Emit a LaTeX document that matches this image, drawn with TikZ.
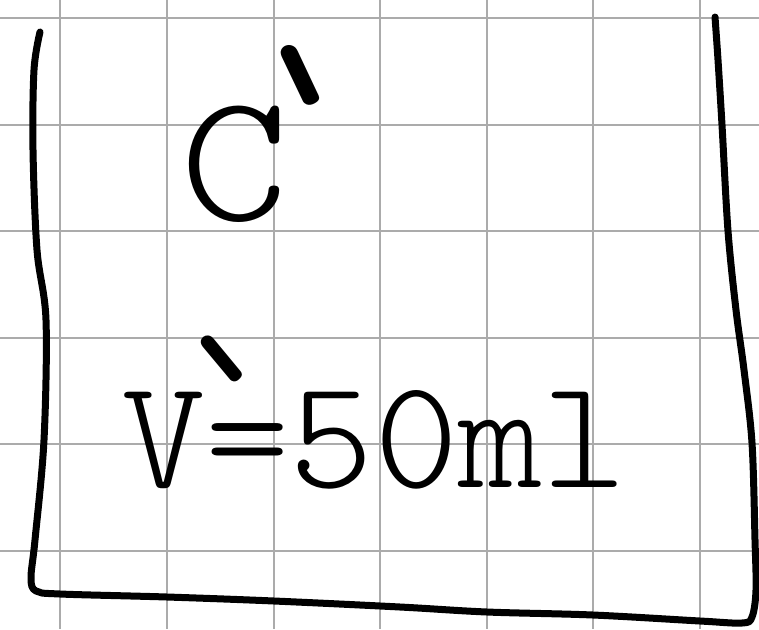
\documentclass[tikz,border=0pt]{standalone}
\usepackage{fontspec}
\usepackage{graphicx}
\newcommand{\handprime}[4]{\rlap{\hspace{#1}\raisebox{#2}{\rotatebox[origin=c]{#4}{\fontsize{#3}{#3}\selectfont\makebox[0pt]{\smash{\raisebox{-0.56em}{\textasciigrave}}}}}}}
\begin{document}
\begin{tikzpicture}[x=1pt,y=-1pt,
  gridline/.style={draw=black!33, line width=1.6pt},
  ink/.style={draw=black, line width=7pt, line cap=round, line join=round},
  handbig/.style={inner sep=0pt, font={\fontsize{184}{190}\ttfamily\fontseries{l}\selectfont}},
  handtext/.style={inner sep=0pt, font={\fontsize{156}{160}\ttfamily\fontseries{l}\selectfont}}]
\fill[white] (0,0) rectangle (759,629);
\useasboundingbox (0,0) rectangle (759,629);
\foreach \x in {60,167,274,380,487,593,700} \draw[gridline] (\x,0) -- (\x,629);
\foreach \y in {18,125,231,338,444,551} \draw[gridline] (0,\y) -- (759,\y);
\draw[ink] plot[smooth, tension=0.55] coordinates {(40,32) (34,70) (33,150) (37,250) (46,320) (44,440) (35,540) (31,578) (36,591) (60,594) (167,597) (274,601) (400,607) (487,612) (593,615) (700,621) (742,623) (752,617) (756,590) (755,540) (752,443) (744,370) (736,310) (728,231) (722,125) (718,60) (715,17)};
\node[handbig, xscale=1.12, anchor=base] (c) at (235,220) {C\handprime{9pt}{144pt}{300pt}{-43}};
\node[handtext, anchor=base west, xscale=1.03] (v) at (121,487) {V\handprime{15pt}{127pt}{260pt}{-27}=50ml};
\end{tikzpicture}
\end{document}
